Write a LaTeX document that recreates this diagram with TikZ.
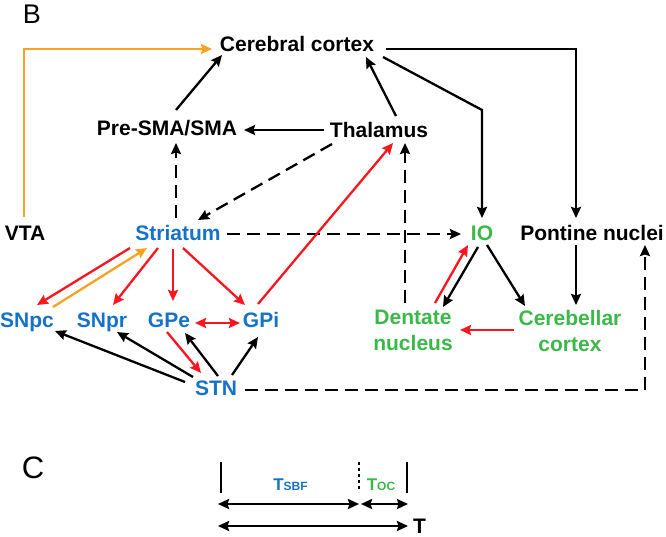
\documentclass[tikz,border=0pt]{standalone}
\usepackage{fontspec}
\setmainfont{Liberation Sans}
\usetikzlibrary{arrows.meta}
\definecolor{bgblue}{RGB}{22,114,200}
\definecolor{cbgreen}{RGB}{58,184,72}
\definecolor{inhred}{RGB}{250,22,30}
\definecolor{daorange}{RGB}{248,162,32}

\begin{document}
\begin{tikzpicture}[x=1pt,y=1pt,
    lbl/.style={font=\fontsize{21}{26}\selectfont\bfseries,
      inner sep=0pt, text height=15pt, text depth=0pt},
    bg/.style={lbl,text=bgblue},
    cb/.style={lbl,text=cbgreen},
    cbtwo/.style={font=\fontsize{21}{26}\selectfont\bfseries,
      inner sep=0pt, align=center, text=cbgreen},
    panel/.style={inner sep=0pt},
    con/.style={line width=2.3pt,-{Stealth[length=11pt,width=10pt,inset=1.5pt]}},
    dsh/.style={con,dash pattern=on 13pt off 7pt},
    rd/.style={con,inhred},
    org/.style={con,daorange},
    tick/.style={line width=2.3pt},
    span/.style={line width=2.3pt,{Stealth[length=11pt,width=10pt,inset=1.5pt]}-{Stealth[length=11pt,width=10pt,inset=1.5pt]}}]
  \useasboundingbox (0,0) rectangle (666,-536);

  % panel B
  \node[panel, font=\fontsize{27}{30}\selectfont] (B) at (32,-14.5) {B};
  \node[lbl] (cc) at (297,-44) {Cerebral cortex};
  \node[lbl] (pre) at (167,-128) {Pre-SMA/SMA};
  \node[lbl] (thal) at (379,-130) {Thalamus};
  \node[lbl] (vta) at (25,-233) {VTA};
  \node[bg] (str) at (178,-233) {Striatum};
  \node[cb] (io) at (482,-233) {IO};
  \node[lbl] (pon) at (592,-233) {Pontine nuclei};
  \node[bg] (snpc) at (27,-320) {SNpc};
  \node[bg] (snpr) at (102,-320) {SNpr};
  \node[bg] (gpe) at (169,-320) {GPe};
  \node[bg] (gpi) at (261,-320) {GPi};
  \node[bg] (stn) at (216,-388) {STN};
  \node[cbtwo] (dent) at (413,-330) {Dentate\\nucleus};
  \node[cbtwo] (cbc) at (570,-331) {Cerebellar\\cortex};

  % cortex loop
  \draw[org] ([shift={(-1,16)}]vta.center) |- ([shift={(-85,-5)}]cc.center);
  \draw[con] ([shift={(9,18)}]pre.center) -- ([shift={(-75,-11)}]cc.center);
  \draw[con] ([shift={(-55,0)}]thal.center) -- ([shift={(77,-2)}]pre.center);
  \draw[con] ([shift={(17,14)}]thal.center) -- ([shift={(69,-13)}]cc.center);
  \draw[con] ([shift={(89,-5)}]cc.center) -| ([shift={(-16,15)}]pon.center);
  \draw[con] ([shift={(86,-13)}]cc.center) -- ([shift={(0,123)}]io.center)
    -- ([shift={(0,15)}]io.center);
  \draw[dsh] ([shift={(-47,-14)}]thal.center) -- ([shift={(20,13)}]str.center);
  \draw[dsh] ([shift={(-2,15)}]str.center) -- ([shift={(9,-15)}]pre.center);
  \draw[dsh] ([shift={(49,-1)}]str.center) -- ([shift={(-21,-1)}]io.center);
  \draw[dsh] ([shift={(-8,27)}]dent.center) -- ([shift={(26,-13)}]thal.center);
  \draw[rd] ([shift={(-3,16)}]gpi.center) -- ([shift={(14,-13)}]thal.center);

  % basal ganglia
  \draw[rd] ([shift={(-48,-15)}]str.center) -- ([shift={(10,15)}]snpc.center);
  \draw[org] ([shift={(26,13)}]snpc.center) -- ([shift={(-31,-15)}]str.center);
  \draw[rd] ([shift={(-20,-15)}]str.center) -- ([shift={(11,15)}]snpr.center);
  \draw[rd] ([shift={(-5,-16)}]str.center) -- ([shift={(4,19)}]gpe.center);
  \draw[rd] ([shift={(5,-15)}]str.center) -- ([shift={(-16,15)}]gpi.center);
  \draw[rd,{Stealth[length=11pt,width=10pt,inset=1.5pt]}-{Stealth[length=11pt,width=10pt,inset=1.5pt]}]
    ([shift={(26,-3)}]gpe.center) -- ([shift={(-21,-3)}]gpi.center);
  \draw[rd] ([shift={(-2,-12)}]gpe.center) -- ([shift={(-15,15)}]stn.center);
  \draw[con] ([shift={(-31,6)}]stn.center) -- ([shift={(28,-11)}]snpc.center);
  \draw[con] ([shift={(-23,11)}]stn.center) -- ([shift={(15,-12)}]snpr.center);
  \draw[con] ([shift={(2,12)}]stn.center) -- ([shift={(16,-13)}]gpe.center);
  \draw[con] ([shift={(16,13)}]stn.center) -- ([shift={(-3,-17)}]gpi.center);
  \draw[dsh] ([shift={(29,-2)}]stn.center) -| ([shift={(53,-12)}]pon.center);

  % cerebellum
  \draw[con] ([shift={(-16,-12)}]pon.center) -- ([shift={(6,26)}]cbc.center);
  \draw[con] ([shift={(-4,-14)}]io.center) -- ([shift={(30,23)}]dent.center);
  \draw[con] ([shift={(5,-12)}]io.center) -- ([shift={(-45,25)}]cbc.center);
  \draw[rd] ([shift={(22,27)}]dent.center) -- ([shift={(-14,-12)}]io.center);
  \draw[rd] ([shift={(-56,1)}]cbc.center) -- ([shift={(47,0)}]dent.center);

  % panel C
  \node[panel, font=\fontsize{31}{34}\selectfont] (C) at (33,-467.5) {C};
  \coordinate (s0) at (221,-462); \coordinate (s1) at (221,-493);
  \coordinate (m0) at (359,-462); \coordinate (m1) at (359,-492);
  \coordinate (e0) at (407,-462); \coordinate (e1) at (407,-493);
  \coordinate (a1) at (218,-504); \coordinate (a2) at (359,-504);
  \coordinate (a3) at (361,-504); \coordinate (a4) at (408,-504);
  \coordinate (b1) at (218,-526); \coordinate (b2) at (408,-526);
  \draw[tick] (s0) -- (s1);
  \draw[tick, dash pattern=on 3pt off 3pt] (m0) -- (m1);
  \draw[tick] (e0) -- (e1);
  \draw[span] (a1) -- (a2);
  \draw[span] (a3) -- (a4);
  \draw[span] (b1) -- (b2);
  \node[panel, anchor=base, text=bgblue, font=\bfseries] (tsbf) at (290.5,-490)
    {\fontsize{17}{20}\selectfont T\fontsize{12}{14}\selectfont SBF};
  \node[panel, anchor=base, text=cbgreen, font=\bfseries] (toc) at (381,-490)
    {\fontsize{17}{20}\selectfont T\fontsize{12}{14}\selectfont OC};
  \node[panel, anchor=base, font=\fontsize{21}{24}\selectfont\bfseries] (tot) at (419.5,-533) {T};
\end{tikzpicture}
\end{document}
